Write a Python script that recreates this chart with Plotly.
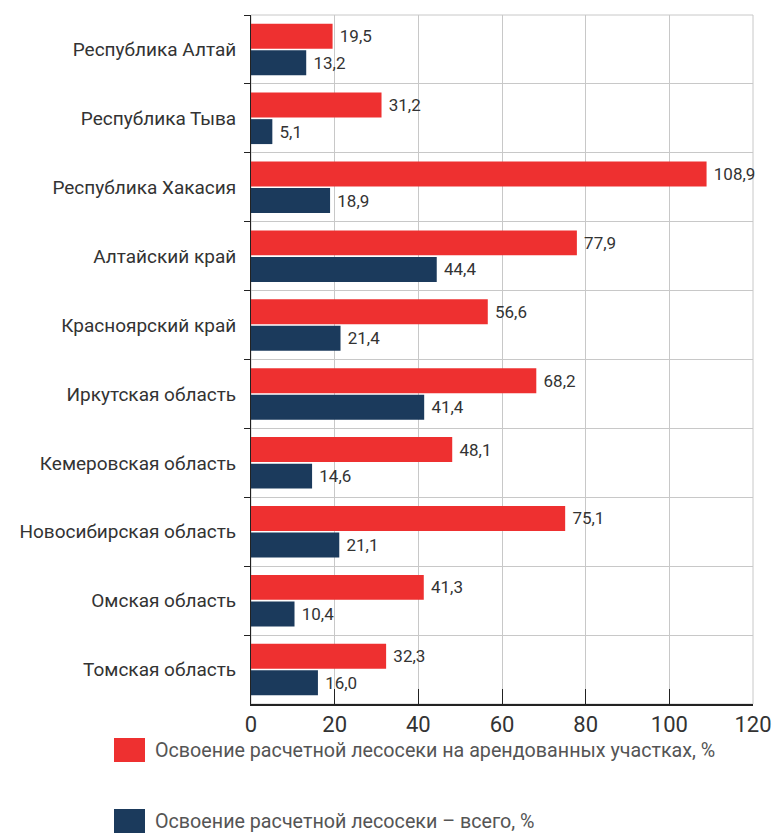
import plotly.graph_objects as go

categories = ["Республика Алтай", "Республика Тыва", "Республика Хакасия", "Алтайский край",
              "Красноярский край", "Иркутская область", "Кемеровская область",
              "Новосибирская область", "Омская область", "Томская область"]
leased = [19.5, 31.2, 108.9, 77.9, 56.6, 68.2, 48.1, 75.1, 41.3, 32.3]
total = [13.2, 5.1, 18.9, 44.4, 21.4, 41.4, 14.6, 21.1, 10.4, 16.0]
series_names = ["Освоение расчетной лесосеки на арендованных участках, %",
                "Освоение расчетной лесосеки – всего, %"]
x_ticks = [0, 20, 40, 60, 80, 100, 120]

RED = "#EE3030"
BLUE = "#1B3A5C"
FONT = "Roboto, sans-serif"
WEIGHT = 400

W, H = 773, 833
ML, MR, MT, MB = 251, 20, 15, 129
PW, PH = W - ML - MR, H - MT - MB

def fmt(v):
    return " " + f"{v:.1f}".replace(".", ",")

fig = go.Figure()
for vals, color, name in [(leased, RED, series_names[0]), (total, BLUE, series_names[1])]:
    fig.add_trace(go.Bar(
        y=categories, x=vals, orientation="h", name=name,
        marker=dict(color=color, line=dict(width=0)),
        text=[fmt(v) for v in vals], textposition="outside",
        textfont=dict(family=FONT, size=17, color="#333333", weight=WEIGHT),
        cliponaxis=False, showlegend=False,
    ))

fig.update_layout(
    width=W, height=H,
    margin=dict(l=ML, r=MR, t=MT, b=MB),
    plot_bgcolor="white", paper_bgcolor="white",
    barmode="group", bargap=0.23, bargroupgap=0.06,
    font=dict(family=FONT, color="#333333", weight=WEIGHT),
    xaxis=dict(range=[0, 120], tickvals=x_ticks, ticktext=[str(t) for t in x_ticks],
               showgrid=True, gridcolor="#C8C8C8", gridwidth=1,
               showline=True, linecolor="#222222", linewidth=2,
               ticks="inside", ticklen=15, tickcolor="#222222", tickwidth=1,
               tickfont=dict(size=22, color="#333333", weight=WEIGHT), zeroline=False,
               automargin=False, ticklabeloverflow="allow"),
    yaxis=dict(autorange="reversed", tickson="boundaries",
               showgrid=True, gridcolor="#C8C8C8", gridwidth=1,
               showline=True, linecolor="#222222", linewidth=1,
               ticks="outside", ticklen=6, tickcolor="#222222",
               tickfont=dict(size=19, color="#333333", weight=WEIGHT), ticklabelstandoff=10,
               automargin=False),
)

# right and top borders (grid-coloured)
fig.add_shape(type="rect", xref="paper", yref="paper", x0=0, x1=1, y0=0, y1=1,
              line=dict(color="#C8C8C8", width=1), layer="below")

# custom legend with large swatches (pixel positions within figure)
legend_items = [(RED, series_names[0], 750), (BLUE, series_names[1], 821)]
for color, label, yc in legend_items:
    fig.add_shape(type="rect", xref="paper", yref="paper",
                  x0=(114 - ML) / PW, x1=(145 - ML) / PW,
                  y0=1 - (yc + 12 - MT) / PH, y1=1 - (yc - 12 - MT) / PH,
                  fillcolor=color, line=dict(width=0))
    fig.add_annotation(xref="paper", yref="paper", x=(153 - ML) / PW,
                       y=1 - (yc - MT) / PH, text=label, showarrow=False,
                       xanchor="left", yanchor="middle",
                       font=dict(family=FONT, size=19.7, color="#555555", weight=WEIGHT))

fig.write_html("out.html", config={"displayModeBar": False},
               post_script="document.body.style.margin='0';document.body.style.overflow='hidden';")
